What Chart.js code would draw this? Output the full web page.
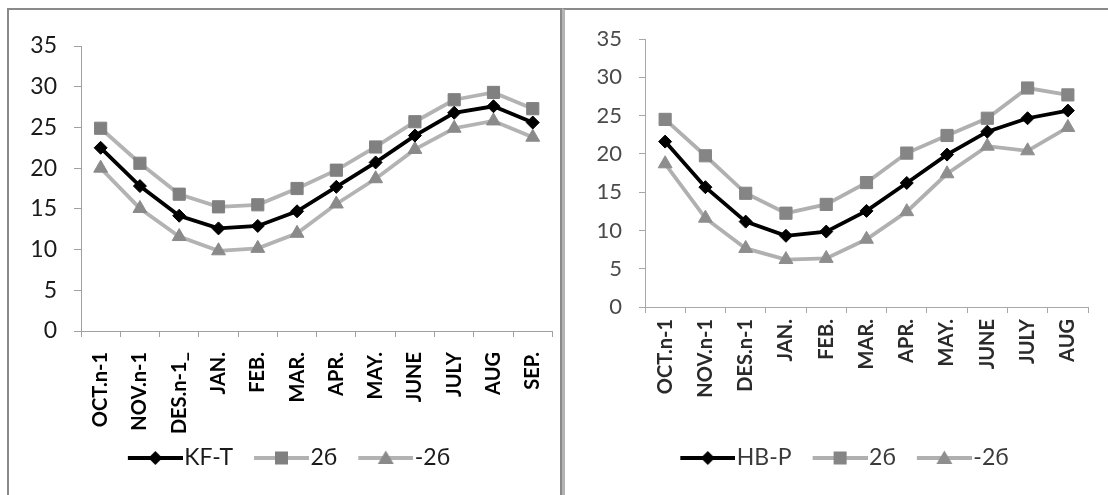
<!DOCTYPE html>
<html><head><meta charset="utf-8">
<script src="https://cdn.jsdelivr.net/npm/chart.js@4.4.1/dist/chart.umd.min.js"></script>
<style>
html,body{margin:0;padding:0;background:#fff;}
body{width:1108px;height:495px;position:relative;overflow:hidden;}
#p1{position:absolute;left:7px;top:8px;width:551px;height:520px;border:2px solid #8a8a8a;border-bottom:none;}
#p2{position:absolute;left:562px;top:8px;width:560px;height:520px;border-top:2px solid #8a8a8a;border-left:3px solid #b4b4b4;}
#c1{position:absolute;left:0;top:0;}
#c2{position:absolute;left:565px;top:0;}
</style></head>
<body>
<div id="p1"></div><div id="p2"></div>
<canvas id="c1" width="562" height="495" style="width:562px;height:495px"></canvas>
<canvas id="c2" width="543" height="495" style="width:543px;height:495px"></canvas>
<script>
// ---- data ----
const monthsLeft = ['OCT.n-1','NOV.n-1','DES.n-1_','JAN.','FEB.','MAR.','APR.','MAY.','JUNE','JULY','AUG','SEP.'];
const kfT     = [22.5, 17.8, 14.15, 12.6, 12.9, 14.7, 17.7, 20.7, 24.0, 26.8, 27.6, 25.6];
const kfPlus  = [24.9, 20.6, 16.8, 15.25, 15.5, 17.5, 19.75, 22.6, 25.7, 28.4, 29.3, 27.3];
const kfMinus = [20.0, 15.05, 11.6, 9.85, 10.15, 12.0, 15.6, 18.7, 22.3, 24.9, 25.8, 23.8];

const monthsRight = ['OCT.n-1','NOV.n-1','DES.n-1','JAN.','FEB.','MAR.','APR.','MAY.','JUNE','JULY','AUG'];
const hbP     = [21.6, 15.65, 11.15, 9.3, 9.85, 12.55, 16.2, 19.9, 22.9, 24.65, 25.65];
const hbPlus  = [24.5, 19.75, 14.85, 12.25, 13.4, 16.25, 20.1, 22.4, 24.65, 28.6, 27.7];
const hbMinus = [18.7, 11.6, 7.65, 6.2, 6.35, 8.85, 12.45, 17.4, 21.0, 20.4, 23.45];

const yTicks = [0, 5, 10, 15, 20, 25, 30, 35];
const namesLeft = ['KF-T', '2б', '-2б'];
const namesRight = ['HB-P', '2б', '-2б'];

// ---- styling ----
const FONT = "Lato, 'Open Sans', 'Noto Sans', sans-serif";
const LEG_F = 23, LEG_P = 6, LEG_WV = 55, LEG_GT = 1.5, LEG_GI = 21;
const LEG_B = LEG_GI + LEG_GT + LEG_WV - LEG_F / 2 - LEG_P;
const LEG_W = LEG_B + LEG_F - 2 * LEG_GT;

function legendImg(lineColor, lineW, markColor, kind) {
  const c = document.createElement('canvas');
  c.width = Math.round(LEG_W); c.height = 20;
  const ctx = c.getContext('2d');
  const y = 10, x0 = c.width - LEG_WV, cx = c.width - LEG_WV / 2;
  ctx.strokeStyle = lineColor; ctx.lineWidth = lineW;
  ctx.beginPath(); ctx.moveTo(x0, y); ctx.lineTo(c.width, y); ctx.stroke();
  ctx.fillStyle = markColor;
  ctx.beginPath();
  if (kind === 'rectRot') { ctx.moveTo(cx - 7, y); ctx.lineTo(cx, y - 7); ctx.lineTo(cx + 7, y); ctx.lineTo(cx, y + 7); }
  else if (kind === 'rect') { ctx.rect(cx - 6.5, y - 6.5, 13, 13); }
  else { ctx.moveTo(cx, y - 7.5); ctx.lineTo(cx + 8, y + 6); ctx.lineTo(cx - 8, y + 6); }
  ctx.closePath(); ctx.fill();
  return c;
}

function build(id, labels, series, names, o) {
  const imgs = [
    legendImg('#000', 4, '#000', 'rectRot'),
    legendImg(o.grayLine, 4, o.sqColor, 'rect'),
    legendImg(o.grayLine, 4, o.triColor, 'triangle')
  ];
  const datasets = [
    {label: names[0], data: series[0], borderColor: '#000', backgroundColor: '#000', borderWidth: 3.8,
     pointStyle: 'rectRot', pointRadius: 6.5, pointBorderWidth: 1, pointBackgroundColor: '#000', pointBorderColor: '#000', order: 0},
    {label: names[1], data: series[1], borderColor: o.grayLine, backgroundColor: o.sqColor, borderWidth: 3.8,
     pointStyle: 'rect', pointRadius: 8.6, pointBorderWidth: 1, pointBackgroundColor: o.sqColor, pointBorderColor: o.sqColor, order: 1},
    {label: names[2], data: series[2], borderColor: o.grayLine, backgroundColor: o.triColor, borderWidth: 3.8,
     pointStyle: 'triangle', pointRadius: 8, pointBorderWidth: 1, pointBackgroundColor: o.triColor, pointBorderColor: o.triColor, order: 2}
  ];
  return new Chart(document.getElementById(id), {
    type: 'line',
    data: {labels: labels, datasets: datasets},
    options: {
      responsive: false, animation: false, devicePixelRatio: 1,
      elements: {line: {tension: 0}},
      layout: {padding: {left: o.padL, right: o.padR, top: o.padT, bottom: o.padB}},
      plugins: {
        tooltip: {enabled: false},
        legend: {
          position: 'bottom',
          labels: {
            usePointStyle: true, pointStyleWidth: LEG_B, padding: LEG_P, color: o.legColor,
            font: {family: FONT, size: LEG_F},
            generateLabels(chart) {
              const items = Chart.defaults.plugins.legend.labels.generateLabels(chart);
              items.forEach(it => { it.pointStyle = imgs[it.datasetIndex]; });
              return items;
            }
          }
        }
      },
      scales: {
        x: {
          type: 'category', offset: true,
          grid: {display: true, drawOnChartArea: false, drawTicks: true, tickLength: 6, offset: true, color: o.axis, lineWidth: 1},
          border: {display: true, color: o.axis, width: 1},
          ticks: {autoSkip: false, minRotation: 90, maxRotation: 90, padding: o.xPad, color: o.xColor,
                  font: {family: FONT, size: o.xSize, weight: 'bold'}},
          afterFit(s) { s.height = o.xH; s.paddingLeft = 0; s.paddingRight = 0; }
        },
        y: {
          min: 0, max: 35,
          afterBuildTicks(s) { s.ticks = yTicks.map(v => ({value: v})); },
          grid: {display: true, drawOnChartArea: false, drawTicks: true, tickLength: o.yTick, color: o.axis, lineWidth: 1},
          border: {display: true, color: o.axis, width: 1},
          ticks: {padding: o.yPad, color: o.yColor, font: {family: FONT, size: o.ySize}},
          afterFit(s) { s.width = o.yW; }
        }
      }
    }
  });
}

build('c1', monthsLeft, [kfT, kfPlus, kfMinus], namesLeft, {
  grayLine: '#b3b3b3', sqColor: '#808080', triColor: '#8a8a8a', axis: '#a0a0a0',
  padL: 5, padR: 4, padT: 46, padB: 15.5, yW: 76, xH: 109.5, xPad: 15, yPad: 17, yTick: 7,
  xColor: '#000', xSize: 20, yColor: '#1a1a1a', ySize: 23, legColor: '#1a1a1a'
});
build('c2', monthsRight, [hbP, hbPlus, hbMinus], namesRight, {
  grayLine: '#b0b0b0', sqColor: '#858585', triColor: '#8e8e8e', axis: '#a8a8a8',
  padL: 21, padR: 20, padT: 39, padB: 15.5, yW: 59, xH: 133.5, xPad: 6, yPad: 17, yTick: 6,
  xColor: '#2a2a2a', xSize: 20, yColor: '#4a4a4a', ySize: 22, legColor: '#3a3a3a'
});
</script>
</body></html>
